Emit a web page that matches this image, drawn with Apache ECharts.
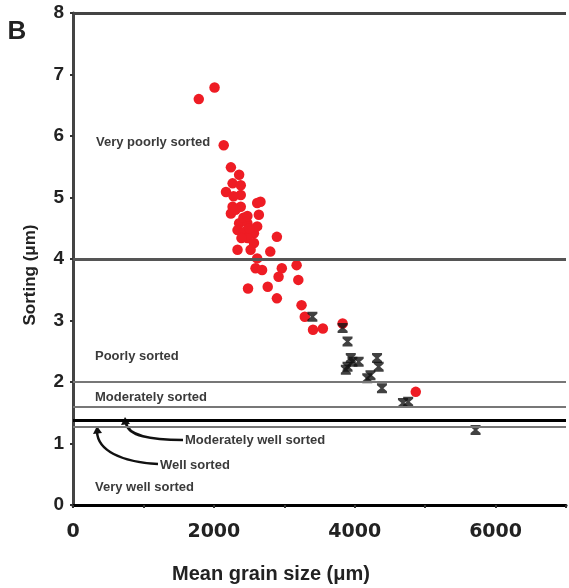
<!DOCTYPE html>
<html>
<head>
<meta charset="utf-8">
<script src="https://cdn.jsdelivr.net/npm/echarts@6/dist/echarts.min.js"></script>
<style>
html,body{margin:0;padding:0;background:#fff;}
#chart{width:569px;height:588px;}
</style>
</head>
<body>
<div id="chart"></div>
<script>
// ---- data ----
const redX = [2010,1786,2140,2242,2359,2266,2382,2172,2382,2615,2662,2266,2382,2639,2242,2359,2476,2336,2429,2569,2615,2895,2476,2569,2336,2522,2801,2615,2592,2685,2965,3175,2919,3199,2485,2765,2895,3245,3291,3408,3548,3828,4867,2308,2420,2503,2280,2392,2476];
const redY = [6.79,6.60,5.85,5.49,5.37,5.23,5.20,5.09,5.04,4.91,4.93,4.85,4.85,4.72,4.74,4.58,4.58,4.47,4.44,4.42,4.53,4.36,4.34,4.26,4.15,4.15,4.12,4.01,3.85,3.82,3.85,3.90,3.71,3.66,3.52,3.55,3.36,3.25,3.06,2.85,2.87,2.95,1.84,4.80,4.67,4.50,5.02,4.34,4.70];
const blackX = [3399,3828,3898,3968,3898,3944,4056,3874,4317,4340,4224,4178,4387,4759,4685,5716];
const blackY = [3.06,2.88,2.66,2.33,2.25,2.39,2.33,2.20,2.39,2.25,2.11,2.06,1.90,1.68,1.66,1.22];
const sortingBounds = [8, 4, 2, 1.6, 1.38, 1.27];
const xTicks = [0, 2000, 4000, 6000];
const yTicks = [0,1,2,3,4,5,6,7,8];
const classLabels = ['Very poorly sorted','Poorly sorted','Moderately sorted','Moderately well sorted','Well sorted','Very well sorted'];

const boundStyles = [
  {color:'#444', width:3},
  {color:'#555', width:3},
  {color:'#777', width:2},
  {color:'#777', width:2},
  {color:'#000', width:3},
  {color:'#777', width:2}
];

const chart = echarts.init(document.getElementById('chart'));
const redData = redX.map((x,i)=>[x, redY[i]]);
const blackData = blackX.map((x,i)=>[x, blackY[i]]);

const annFont = 'bold 13px "Liberation Sans", Arial, sans-serif';
const annFill = '#3a3a3a';

chart.setOption({
  animation:false,
  backgroundColor:'#fff',
  grid:{left:73, right:-5, top:13, bottom:83, containLabel:false},
  xAxis:{
    type:'value', min:0, max:7000, interval:1000,
    axisLine:{show:true, onZero:false, lineStyle:{color:'#000', width:3}},
    axisTick:{show:true, length:3, interval:0, lineStyle:{color:'#333', width:2}},
    axisLabel:{
      margin:18,
      fontFamily:'"DejaVu Sans", sans-serif', fontWeight:'bold', fontSize:19, color:'#222',
      formatter:(v)=> xTicks.indexOf(v) >= 0 ? String(v) : ''
    },
    splitLine:{show:false}
  },
  yAxis:{
    type:'value', min:0, max:8, interval:1,
    axisLine:{show:true, lineStyle:{color:'#444', width:3}},
    axisTick:{show:true, length:3, lineStyle:{color:'#333', width:2}},
    axisLabel:{
      margin:9,
      fontFamily:'"Liberation Sans", Arial, sans-serif', fontWeight:'bold', fontSize:19, color:'#222',
      formatter:(v)=> yTicks.indexOf(v) >= 0 ? String(v) : ''
    },
    splitLine:{show:false}
  },
  series:[
    {
      type:'scatter', data:[], silent:true, z:1,
      markLine:{
        silent:true, symbol:'none', animation:false,
        label:{show:false},
        data: sortingBounds.map((b,i)=>({yAxis:b, lineStyle:{color:boundStyles[i].color, width:boundStyles[i].width, type:'solid'}}))
      }
    },
    {
      type:'scatter', data:redData, symbol:'circle', symbolSize:10.5, z:3,
      itemStyle:{color:'#ee1c24', opacity:1}
    },
    {
      type:'scatter', data:blackData, z:4,
      symbol:'path://M0,0 L10,0 L10,2 L6.5,5 L10,8 L10,10 L0,10 L0,8 L3.5,5 L0,2 Z',
      symbolSize:[10,10],
      itemStyle:{color:'#111'}
    }
  ],
  graphic:[
    {type:'text', x:17, y:32, style:{text:'B', font:'bold 26px "Liberation Sans", Arial, sans-serif', fill:'#222', textAlign:'center', textVerticalAlign:'middle'}},
    {type:'text', x:30, y:275, rotation:Math.PI/2, style:{text:'Sorting (μm)', font:'bold 17px "Liberation Sans", Arial, sans-serif', fill:'#222', textAlign:'center', textVerticalAlign:'middle'}},
    {type:'text', x:271, y:574, style:{text:'Mean grain size (μm)', font:'bold 20px "Liberation Sans", Arial, sans-serif', fill:'#222', textAlign:'center', textVerticalAlign:'middle'}},
    {type:'text', x:96, y:142, style:{text:classLabels[0], font:annFont, fill:annFill, textVerticalAlign:'middle'}},
    {type:'text', x:95, y:356, style:{text:classLabels[1], font:annFont, fill:annFill, textVerticalAlign:'middle'}},
    {type:'text', x:95, y:397, style:{text:classLabels[2], font:annFont, fill:annFill, textVerticalAlign:'middle'}},
    {type:'text', x:185, y:440, style:{text:classLabels[3], font:annFont, fill:annFill, textVerticalAlign:'middle'}},
    {type:'text', x:160, y:465, style:{text:classLabels[4], font:annFont, fill:annFill, textVerticalAlign:'middle'}},
    {type:'text', x:95, y:487, style:{text:classLabels[5], font:annFont, fill:annFill, textVerticalAlign:'middle'}},
    {type:'bezierCurve', shape:{x1:183, y1:440, cpx1:150, cpy1:440, cpx2:128, cpy2:436, x2:126, y2:423}, style:{stroke:'#111', lineWidth:2.5, fill:null}},
    {type:'polygon', shape:{points:[[125,417],[121,425],[130,424]]}, style:{fill:'#111'}},
    {type:'bezierCurve', shape:{x1:158, y1:464, cpx1:120, cpy1:462, cpx2:98, cpy2:450, x2:97, y2:432}, style:{stroke:'#111', lineWidth:2.5, fill:null}},
    {type:'polygon', shape:{points:[[97,426],[93,434],[102,433]]}, style:{fill:'#111'}}
  ]
});
</script>
</body>
</html>
